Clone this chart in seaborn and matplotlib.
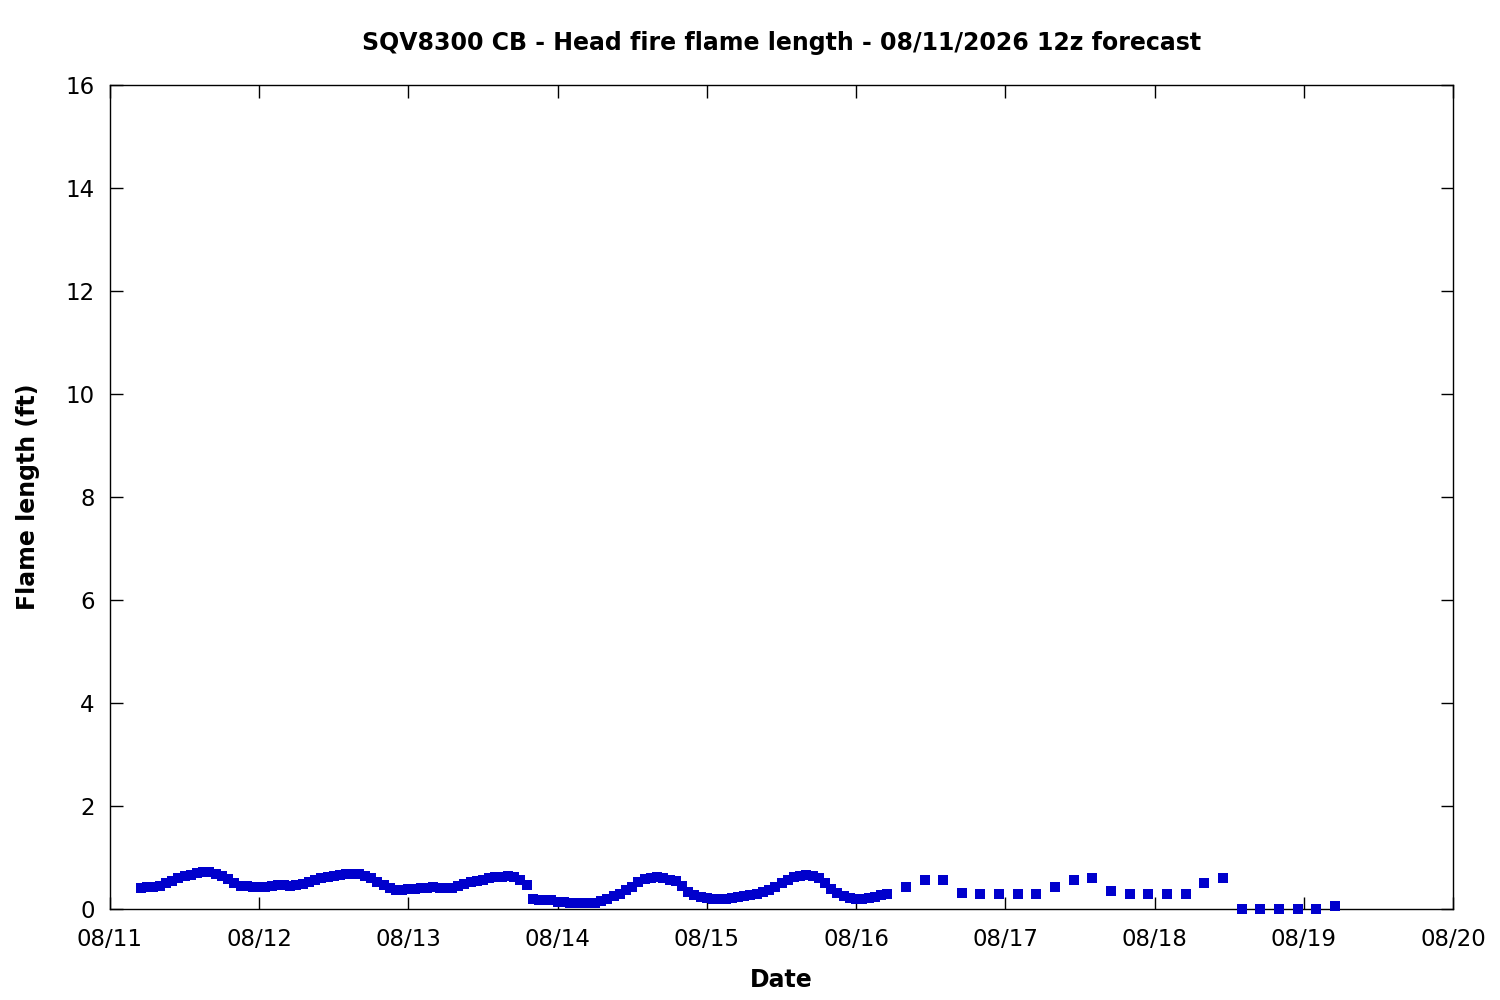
import pandas as pd
import matplotlib
import matplotlib.pyplot as plt
import matplotlib.dates as mdates
import seaborn as sns

matplotlib.use('Agg')

# hourly forecast values, starting 08/11 05h
hourly_start = '2026-08-11 05:00'
hourly_vals = [
    0.41, 0.42, 0.42, 0.45, 0.50, 0.55, 0.60, 0.64, 0.66, 0.69, 0.71, 0.71,
    0.68, 0.64, 0.58, 0.50, 0.45, 0.44, 0.43, 0.42, 0.43, 0.45, 0.46, 0.46,
    0.45, 0.46, 0.48, 0.52, 0.56, 0.60, 0.63, 0.65, 0.66, 0.67, 0.68, 0.67,
    0.65, 0.60, 0.53, 0.46, 0.40, 0.36, 0.36, 0.38, 0.39, 0.40, 0.40, 0.42,
    0.40, 0.40, 0.41, 0.45, 0.48, 0.52, 0.54, 0.57, 0.60, 0.62, 0.62, 0.64,
    0.62, 0.56, 0.46, 0.19, 0.18, 0.18, 0.17, 0.14, 0.13, 0.12, 0.12, 0.12,
    0.12, 0.12, 0.15, 0.19, 0.25, 0.30, 0.36, 0.43, 0.52, 0.58, 0.60, 0.62,
    0.60, 0.57, 0.54, 0.45, 0.33, 0.27, 0.23, 0.21, 0.20, 0.19, 0.20, 0.22,
    0.23, 0.25, 0.27, 0.30, 0.33, 0.37, 0.42, 0.50, 0.57, 0.62, 0.65, 0.66,
    0.64, 0.60, 0.50, 0.38, 0.31, 0.26, 0.21, 0.20, 0.20, 0.22, 0.24, 0.27,
    0.30,
]

# 3-hourly values, starting 08/16 08h
three_hourly_start = '2026-08-16 08:00'
three_hourly_vals = [
    0.42, 0.56, 0.56, 0.32, 0.30, 0.30, 0.29, 0.30, 0.42, 0.56, 0.60, 0.34,
    0.30, 0.29, 0.29, 0.30, 0.50, 0.60, 0.00, 0.00, 0.00, 0.00, 0.00, 0.06,
]

times = list(pd.date_range(hourly_start, periods=len(hourly_vals), freq='h')) + \
    list(pd.date_range(three_hourly_start, periods=len(three_hourly_vals), freq='3h'))
df = pd.DataFrame({'time': times, 'flame': hourly_vals + three_hourly_vals})

sns.set_style('white')
plt.rcParams['font.family'] = ['DejaVu Sans']
plt.rcParams['text.color'] = 'black'
plt.rcParams['axes.labelcolor'] = 'black'
plt.rcParams['xtick.color'] = 'black'
plt.rcParams['ytick.color'] = 'black'

fig = plt.figure(figsize=(15, 10), dpi=100)
ax = fig.add_axes([0.0733, 0.091, 0.8954, 0.824])

sns.scatterplot(data=df, x='time', y='flame', marker='s', s=46, color='#0000cc',
                linewidth=0, ax=ax, clip_on=False, zorder=3)

ax.set_xlim(pd.Timestamp('2026-08-11'), pd.Timestamp('2026-08-20'))
ax.set_ylim(0, 16)
ax.set_yticks(range(0, 17, 2))
ax.xaxis.set_major_locator(mdates.DayLocator())
ax.xaxis.set_major_formatter(mdates.DateFormatter('%m/%d'))

ax.tick_params(direction='in', length=9, width=1, top=True, right=True,
               bottom=True, left=True, labelsize=16.5, color='black',
               labelcolor='black')
ax.tick_params(axis='x', pad=14)
ax.tick_params(axis='y', pad=11)
for sp in ax.spines.values():
    sp.set_color('black')
    sp.set_linewidth(1)

ax.set_title('SQV8300 CB - Head fire flame length - 08/11/2026 12z forecast',
             fontsize=17, fontweight='bold', pad=25, color='black')
ax.set_xlabel('Date', fontsize=17, fontweight='bold', labelpad=12)
ax.set_ylabel('Flame length (ft)', fontsize=17, fontweight='bold', labelpad=18)

fig.savefig('out.png', dpi=100)
plt.close(fig)
